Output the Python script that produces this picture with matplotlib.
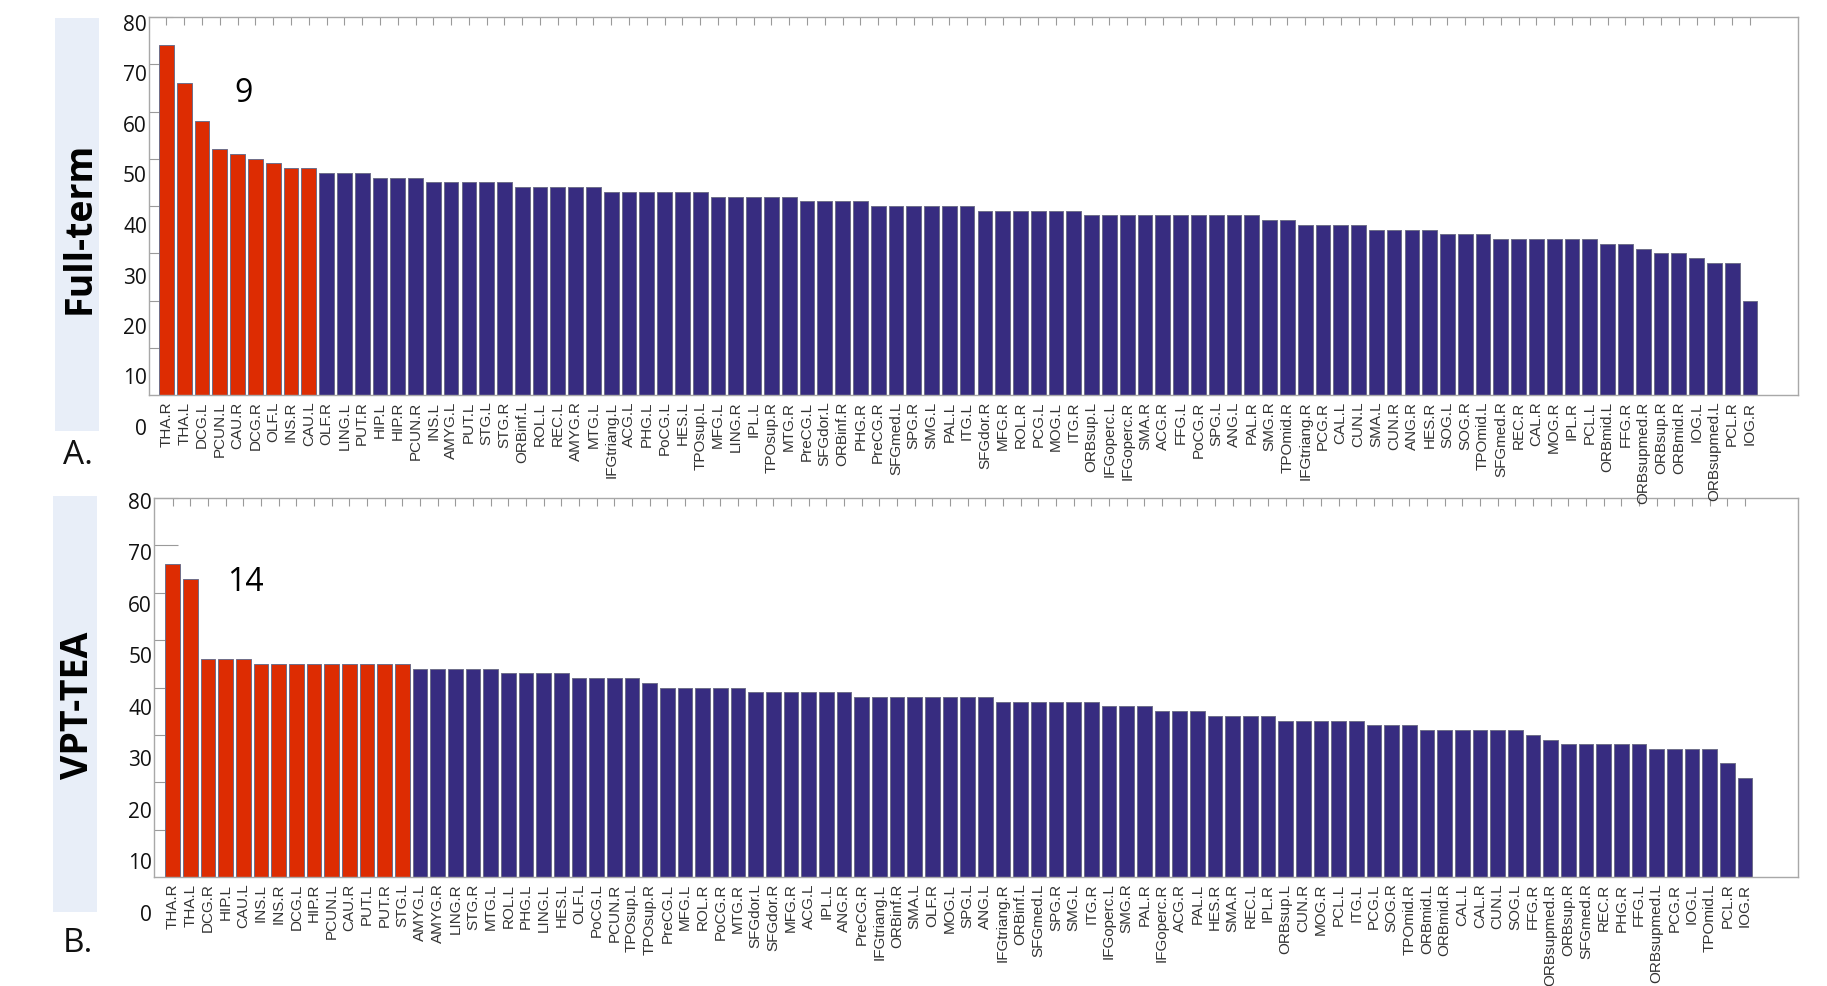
import matplotlib
matplotlib.use("Agg")
import matplotlib.pyplot as plt
from matplotlib.patches import Rectangle

# Panel A: Full-term
full_labels = [
    "THA.R", "THA.L", "DCG.L", "PCUN.L", "CAU.R", "DCG.R", "OLF.L", "INS.R", "CAU.L",
    "OLF.R", "LING.L", "PUT.R", "HIP.L", "HIP.R", "PCUN.R", "INS.L", "AMYG.L", "PUT.L",
    "STG.L", "STG.R", "ORBinf.L", "ROL.L", "REC.L", "AMYG.R", "MTG.L", "IFGtriang.L",
    "ACG.L", "PHG.L", "PoCG.L", "HES.L", "TPOsup.L", "MFG.L", "LING.R", "IPL.L",
    "TPOsup.R", "MTG.R", "PreCG.L", "SFGdor.L", "ORBinf.R", "PHG.R", "PreCG.R",
    "SFGmed.L", "SPG.R", "SMG.L", "PAL.L", "ITG.L", "SFGdor.R", "MFG.R", "ROL.R",
    "PCG.L", "MOG.L", "ITG.R", "ORBsup.L", "IFGoperc.L", "IFGoperc.R", "SMA.R", "ACG.R",
    "FFG.L", "PoCG.R", "SPG.L", "ANG.L", "PAL.R", "SMG.R", "TPOmid.R", "IFGtriang.R",
    "PCG.R", "CAL.L", "CUN.L", "SMA.L", "CUN.R", "ANG.R", "HES.R", "SOG.L", "SOG.R",
    "TPOmid.L", "SFGmed.R", "REC.R", "CAL.R", "MOG.R", "IPL.R", "PCL.L", "ORBmid.L",
    "FFG.R", "ORBsupmed.R", "ORBsup.R", "ORBmid.R", "IOG.L", "ORBsupmed.L", "PCL.R", "IOG.R",
]
full_values = [
    74, 66, 58, 52, 51, 50, 49, 48, 48,
    47, 47, 47, 46, 46, 46, 45, 45, 45,
    45, 45, 44, 44, 44, 44, 44, 43,
    43, 43, 43, 43, 43, 42, 42, 42,
    42, 42, 41, 41, 41, 41, 40,
    40, 40, 40, 40, 40, 39, 39, 39,
    39, 39, 39, 38, 38, 38, 38, 38,
    38, 38, 38, 38, 38, 37, 37, 36,
    36, 36, 36, 35, 35, 35, 35, 34, 34,
    34, 33, 33, 33, 33, 33, 33, 32,
    32, 31, 30, 30, 29, 28, 28, 20,
]
full_hubs = 9

# Panel B: VPT-TEA
vpt_labels = [
    "THA.R", "THA.L", "DCG.R", "HIP.L", "CAU.L", "INS.L", "INS.R", "DCG.L", "HIP.R",
    "PCUN.L", "CAU.R", "PUT.L", "PUT.R", "STG.L", "AMYG.L", "AMYG.R", "LING.R", "STG.R",
    "MTG.L", "ROL.L", "PHG.L", "LING.L", "HES.L", "OLF.L", "PoCG.L", "PCUN.R",
    "TPOsup.L", "TPOsup.R", "PreCG.L", "MFG.L", "ROL.R", "PoCG.R", "MTG.R", "SFGdor.L",
    "SFGdor.R", "MFG.R", "ACG.L", "IPL.L", "ANG.R", "PreCG.R", "IFGtriang.L", "ORBinf.R",
    "SMA.L", "OLF.R", "MOG.L", "SPG.L", "ANG.L", "IFGtriang.R", "ORBinf.L", "SFGmed.L",
    "SPG.R", "SMG.L", "ITG.R", "IFGoperc.L", "SMG.R", "PAL.R", "IFGoperc.R", "ACG.R",
    "PAL.L", "HES.R", "SMA.R", "REC.L", "IPL.R", "ORBsup.L", "CUN.R", "MOG.R", "PCL.L",
    "ITG.L", "PCG.L", "SOG.R", "TPOmid.R", "ORBmid.L", "ORBmid.R", "CAL.L", "CAL.R",
    "CUN.L", "SOG.L", "FFG.R", "ORBsupmed.R", "ORBsup.R", "SFGmed.R", "REC.R", "PHG.R",
    "FFG.L", "ORBsupmed.L", "PCG.R", "IOG.L", "TPOmid.L", "PCL.R", "IOG.R",
]
vpt_values = [
    66, 63, 46, 46, 46, 45, 45, 45, 45,
    45, 45, 45, 45, 45, 44, 44, 44, 44,
    44, 43, 43, 43, 43, 42, 42, 42,
    42, 41, 40, 40, 40, 40, 40, 39,
    39, 39, 39, 39, 39, 38, 38, 38,
    38, 38, 38, 38, 38, 37, 37, 37,
    37, 37, 37, 36, 36, 36, 35, 35,
    35, 34, 34, 34, 34, 33, 33, 33, 33,
    33, 32, 32, 32, 31, 31, 31, 31,
    31, 31, 30, 29, 28, 28, 28, 28,
    28, 27, 27, 27, 27, 24, 21,
]
vpt_hubs = 14

W, H = 1827, 987
RED = "#dd2c02"
BLUE = "#372c80"
GRID = "#9a9a9a"


def fx(px):
    return px / W


def fy(py):
    return 1 - py / H


def panel(fig, labels, values, n_hub, box, lab_box, xlim, ytop, side, letter, count, z):
    # box / lab_box in pixels: (left, top, right, bottom)
    l, t, r, b = box
    ax = fig.add_axes([fx(l), fy(b), fx(r - l), (b - t) / H], zorder=z)
    x = list(range(len(values)))
    colors = [RED if i < n_hub else BLUE for i in x]
    ax.bar(x, values, width=0.83, color=colors, edgecolor="#6e6e8a", linewidth=0.7, zorder=2)
    ax.set_xlim(*xlim)
    ax.set_ylim(0, ytop)
    ax.set_xticks(x)
    ax.set_xticklabels(labels, rotation=90, fontsize=11,
                       family=["Liberation Sans Narrow", "Liberation Sans", "DejaVu Sans"],
                       color="#333333")
    ax.tick_params(axis="x", direction="in", length=6, width=0.8, color=GRID,
                   top=True, bottom=True, pad=4)
    ax.set_yticks(range(10, 81, 10))
    ax.tick_params(axis="y", direction="in", length=17, width=0.8, color=GRID,
                   labelleft=False)
    for s in ax.spines.values():
        s.set_color("#a8a8a8")
        s.set_linewidth(1.0)

    # y labels sit on their own scale, offset from the ticks as in the figure
    ll, lt, lr, lb = lab_box
    lax = fig.add_axes([fx(ll), fy(lb), fx(lr - ll), (lb - lt) / H])
    lax.set_ylim(0, 80)
    lax.set_yticks(range(0, 81, 10))
    lax.set_yticklabels([str(v) for v in range(0, 81, 10)], fontsize=15,
                        family="Open Sans", color="#111111")
    lax.tick_params(axis="y", length=0, pad=0)
    lax.set_xticks([])
    for s in lax.spines.values():
        s.set_visible(False)
    lax.patch.set_visible(False)

    # side label box
    sl, st, sr, sb = side[0]
    fig.add_artist(Rectangle((fx(sl), fy(sb)), fx(sr - sl), (sb - st) / H,
                             transform=fig.transFigure, facecolor="#e8eef8",
                             edgecolor="none"))
    fig.text(fx((sl + sr) / 2 + 3), fy(side[2]), side[1], rotation=90,
             ha="center", va="center", fontsize=27, fontweight="bold",
             family="Open Sans", color="#000000")
    fig.text(fx(letter[0]), fy(letter[1]), letter[2], ha="left", va="center",
             fontsize=24, family="Open Sans", color="#111111")
    fig.text(fx(count[0]), fy(count[1]), count[2], ha="center", va="center",
             fontsize=23, family="Open Sans", color="#000000")
    return ax


fig = plt.figure(figsize=(W / 100, H / 100), dpi=100)
fig.patch.set_facecolor("white")

panel(fig, full_labels, full_values, full_hubs,
      box=(149, 18, 1798, 396), lab_box=(147, 23, 160, 427),
      xlim=(-0.98, 91.7), ytop=80,
      side=((55, 19, 99, 432), "Full-term", 228),
      letter=(63, 456, "A."), count=(244, 94, "9"), z=3)

panel(fig, vpt_labels, vpt_values, vpt_hubs,
      box=(154, 499, 1798, 878), lab_box=(152, 501, 165, 913),
      xlim=(-1.06, 92.0), ytop=78.6,
      side=((53, 497, 97, 913), "VPT-TEA", 705),
      letter=(63, 944, "B."), count=(245, 583, "14"), z=2)

fig.savefig("out.png", dpi=100)
